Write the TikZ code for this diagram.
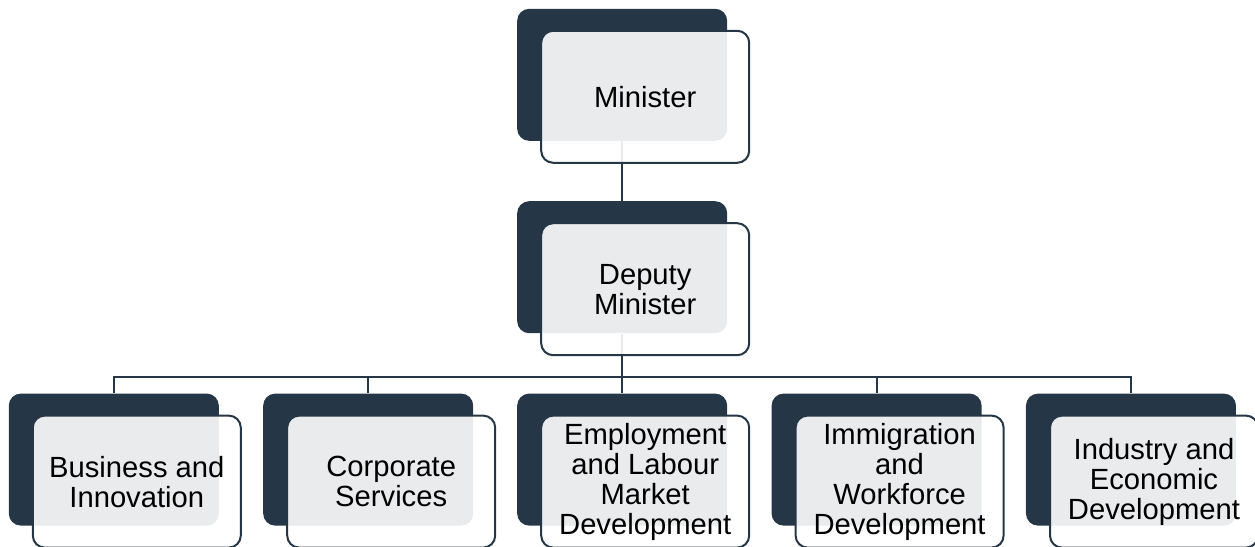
\documentclass[tikz,border=0pt]{standalone}
\usepackage{fontspec}
\setmainfont{Liberation Sans}
\usepackage{tikz}
\usetikzlibrary{matrix}
\usetikzlibrary{positioning}
\usetikzlibrary{backgrounds}
\definecolor{navy}{RGB}{37,55,70}
\begin{document}
\begin{tikzpicture}[
  font=\fontsize{14.6}{15}\selectfont,
  every matrix/.style={ampersand replacement=\&,column sep=22pt,row sep=30pt,inner sep=0pt},
  backbox/.style={fill=navy,rounded corners=6pt,minimum width=105pt,minimum height=66pt,inner sep=0pt},
  front/.style={draw=navy,line width=1pt,rounded corners=6pt,fill=white,fill opacity=0.9,text opacity=1,
    minimum width=104pt,minimum height=66pt,inner sep=0pt,align=center},
  link/.style={draw=navy,line width=1pt}]

  \useasboundingbox (0,0) rectangle (627.5pt,-273.5pt);

  % Dark boxes in a matrix
  \matrix[anchor=north west] at (4pt,-4pt) {
    \& \& \node[backbox] (mback) {}; \& \& \\
    \& \& \node[backbox] (dback) {}; \& \& \\
    \node[backbox] (bback) {}; \&
    \node[backbox] (cback) {}; \&
    \node[backbox] (eback) {}; \&
    \node[backbox] (iback) {}; \&
    \node[backbox] (ieback) {}; \\
  };

  % Front boxes with the labels
  \node[front] (minister) at ([shift={(11.5pt,-11pt)}]mback.center) {Minister};
  \node[front] (deputy) at ([shift={(11.5pt,-11pt)}]dback.center) {Deputy\\Minister};
  \node[front] (business) at ([shift={(11.5pt,-11pt)}]bback.center) {Business and\\Innovation};
  \node[front] (corporate) at ([shift={(11.5pt,-11pt)}]cback.center) {Corporate\\Services};
  \node[front] (employment) at ([shift={(11.5pt,-11pt)}]eback.center) {Employment\\and Labour\\Market\\Development};
  \node[front] (immigration) at ([shift={(11.5pt,-11pt)}]iback.center) {Immigration\\and\\Workforce\\Development};
  \node[front] (industry) at ([shift={(11.5pt,-11pt)}]ieback.center) {Industry and\\Economic\\Development};

  % Connectors behind the boxes
  \begin{scope}[on background layer]
    \draw[link] (mback.south) -- (dback.north);
    \draw[link] (dback.south) -- ++(0,-21.5pt) -| (bback.north);
    \draw[link] (dback.south) -- ++(0,-21.5pt) -| (cback.north);
    \draw[link] (dback.south) -- (eback.north);
    \draw[link] (dback.south) -- ++(0,-21.5pt) -| (iback.north);
    \draw[link] (dback.south) -- ++(0,-21.5pt) -| (ieback.north);
  \end{scope}
\end{tikzpicture}
\end{document}
